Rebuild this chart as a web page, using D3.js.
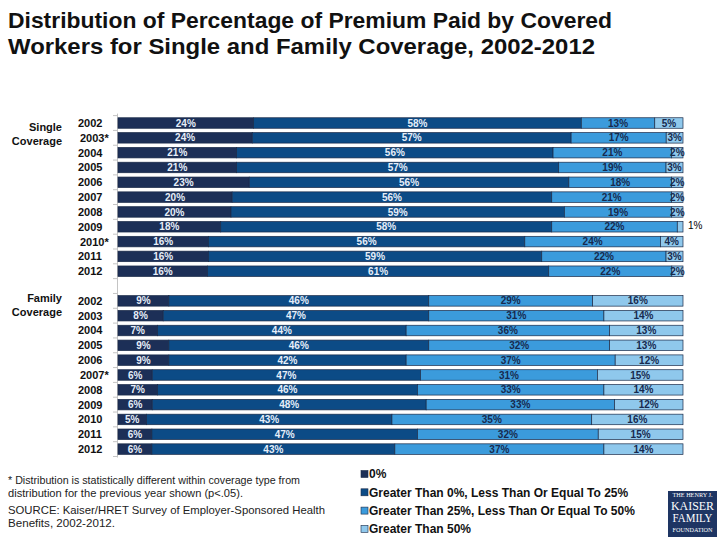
<!DOCTYPE html>
<html><head><meta charset="utf-8">
<script src="https://cdn.jsdelivr.net/npm/d3@7"></script>
<style>body{margin:0;background:#fff}svg{display:block;font-family:Arial,"Liberation Sans",sans-serif}</style>
</head><body><svg id="c" width="720" height="540"></svg>
<script>
const titleLines = ["Distribution of Percentage of Premium Paid by Covered", "Workers for Single and Family Coverage, 2002-2012"];
const categories = ["0%", "Greater Than 0%, Less Than Or Equal To 25%", "Greater Than 25%, Less Than Or Equal To 50%", "Greater Than 50%"];
const singleYears = ["2002", "2003*", "2004", "2005", "2006", "2007", "2008", "2009", "2010*", "2011", "2012"];
const familyYears = ["2002", "2003", "2004", "2005", "2006", "2007*", "2008", "2009", "2010", "2011", "2012"];
const singleZero = [24, 24, 21, 21, 23, 20, 20, 18, 16, 16, 16];
const singleLow  = [58, 57, 56, 57, 56, 56, 59, 58, 56, 59, 61];
const singleMid  = [13, 17, 21, 19, 18, 21, 19, 22, 24, 22, 22];
const singleHigh = [5, 3, 2, 3, 2, 2, 2, 1, 4, 3, 2];
const familyZero = [9, 8, 7, 9, 9, 6, 7, 6, 5, 6, 6];
const familyLow  = [46, 47, 44, 46, 42, 47, 46, 48, 43, 47, 43];
const familyMid  = [29, 31, 36, 32, 37, 31, 33, 33, 35, 32, 37];
const familyHigh = [16, 14, 13, 13, 12, 15, 14, 12, 16, 15, 14];
const groupLabels = [["Single", "Coverage"], ["Family", "Coverage"]];
const footLines = ["* Distribution is statistically different within coverage type from", "distribution for the previous year shown (p<.05).", "SOURCE:  Kaiser/HRET Survey of Employer-Sponsored Health", "Benefits, 2002-2012."];

const colors = ["#1c2f57", "#0c4b86", "#3b9bdc", "#8fc8ec"];
const labelColors = ["#e6eef9", "#e6eef9", "#172a4e", "#172a4e"];

const svg = d3.select("#c");

// title
svg.selectAll("text.title").data(titleLines).join("text")
  .attr("class", "title").attr("x", 8).attr("y", (d, i) => 28 + i * 26)
  .attr("font-size", 22).attr("font-weight", "bold").attr("fill", "#111")
  .attr("textLength", (d, i) => [604, 587][i]).attr("lengthAdjust", "spacingAndGlyphs")
  .text(d => d);

// rows
const rows = [];
singleYears.forEach((y, i) => rows.push({key: "S" + i, label: y, vals: [singleZero[i], singleLow[i], singleMid[i], singleHigh[i]]}));
const gapKey = "gap";
familyYears.forEach((y, i) => rows.push({key: "F" + i, label: y, vals: [familyZero[i], familyLow[i], familyMid[i], familyHigh[i]]}));
const slots = rows.slice(0, 11).map(r => r.key).concat([gapKey]).concat(rows.slice(11).map(r => r.key));

const yScale = d3.scaleBand().domain(slots).range([115.6, 456.5]).paddingInner(0.29).paddingOuter(0.145);
const xScale = d3.scaleLinear().domain([0, 1]).range([118, 683]);

const table = rows.map(r => ({key: r.key, label: r.label, 0: r.vals[0], 1: r.vals[1], 2: r.vals[2], 3: r.vals[3]}));
const stacked = d3.stack().keys([0, 1, 2, 3]).offset(d3.stackOffsetExpand)(table);

// axis line & ticks
const step = yScale.step();
const y0 = yScale.range()[0];
svg.append("line").attr("x1", 117.5).attr("x2", 117.5).attr("y1", y0 - 2).attr("y2", yScale.range()[1] + 1)
  .attr("stroke", "#c4c4c4").attr("stroke-width", 1);
svg.selectAll("line.tick").data(d3.range(slots.length + 1)).join("line")
  .attr("class", "tick").attr("x1", 113).attr("x2", 117.5)
  .attr("y1", i => y0 + i * step).attr("y2", i => y0 + i * step)
  .attr("stroke", "#c4c4c4").attr("stroke-width", 1);

// bars
const layers = svg.selectAll("g.layer").data(stacked).join("g").attr("class", "layer");
layers.selectAll("rect").data((s, k) => s.map(d => ({d, k}))).join("rect")
  .attr("x", o => xScale(o.d[0])).attr("width", o => xScale(o.d[1]) - xScale(o.d[0]))
  .attr("y", o => yScale(o.d.data.key)).attr("height", yScale.bandwidth())
  .attr("fill", o => colors[o.k]).attr("stroke", "#1a2a48").attr("stroke-width", 0.7);

// value labels
layers.selectAll("text").data((s, k) => s.map(d => ({d, k}))).join("text")
  .attr("x", o => o.d.data[o.k] <= 1 ? 688 : (xScale(o.d[0]) + xScale(o.d[1])) / 2)
  .attr("y", o => yScale(o.d.data.key) + yScale.bandwidth() / 2 + (o.d.data[o.k] <= 1 ? -1.5 : 0))
  .attr("dy", "0.36em")
  .attr("text-anchor", o => o.d.data[o.k] <= 1 ? "start" : "middle")
  .attr("font-size", 10).attr("font-weight", o => o.d.data[o.k] <= 1 ? "normal" : "bold")
  .attr("fill", o => o.d.data[o.k] <= 1 ? "#000" : labelColors[o.k])
  .text(o => o.d.data[o.k] + "%");

// year labels
svg.selectAll("text.year").data(rows).join("text").attr("class", "year")
  .attr("x", r => r.label.includes("*") ? 80 : 78)
  .attr("y", r => yScale(r.key) + yScale.bandwidth() / 2).attr("dy", "0.36em")
  .attr("font-size", 11).attr("font-weight", "bold").attr("fill", "#111")
  .text(r => r.label);

// group labels
const groupY = [yScale("S0") + yScale.bandwidth() / 2 + 7.5, yScale("F0") + yScale.bandwidth() / 2 + 1.5];
groupLabels.forEach((lines, g) => {
  svg.selectAll("text.g" + g).data(lines).join("text").attr("class", "g" + g)
    .attr("x", 62).attr("y", (d, i) => groupY[g] + i * 14).attr("text-anchor", "end")
    .attr("font-size", 11).attr("font-weight", "bold").attr("fill", "#111").text(d => d);
});

// footnote
svg.selectAll("text.foot").data(footLines).join("text").attr("class", "foot")
  .attr("x", 8).attr("y", (d, i) => [484, 497, 514, 527][i])
  .attr("font-size", 10.5).attr("fill", "#222")
  .attr("textLength", (d, i) => [292, 235, 317, 107][i]).attr("lengthAdjust", "spacingAndGlyphs")
  .text(d => d);

// legend
const lg = svg.selectAll("g.leg").data(categories).join("g").attr("class", "leg")
  .attr("transform", (d, i) => `translate(361,${474 + i * 18.3})`);
lg.append("rect").attr("x", 0).attr("y", -3.5).attr("width", 7).attr("height", 7)
  .attr("fill", (d, i) => colors[i]).attr("stroke", "#1a2a48").attr("stroke-width", 0.6);
lg.append("text").attr("x", 8).attr("y", 0).attr("dy", "0.36em")
  .attr("font-size", 12).attr("font-weight", "bold").attr("fill", "#111").text(d => d);

// logo
const logo = svg.append("g").attr("transform", "translate(668,491)");
logo.append("rect").attr("width", 49).attr("height", 46).attr("fill", "#1e3563");
const logoText = [["THE HENRY J.", 6, 5.2, 40], ["KAISER", 18.5, 12, 43], ["FAMILY", 31, 12, 40], ["FOUNDATION", 41, 5.2, 40]];
logo.selectAll("text").data(logoText).join("text")
  .attr("x", 24.5).attr("y", d => d[1]).attr("text-anchor", "middle")
  .attr("font-family", "'Liberation Serif','DejaVu Serif',serif").attr("font-size", d => d[2])
  .attr("fill", "#fff").attr("textLength", d => d[3]).attr("lengthAdjust", "spacingAndGlyphs")
  .text(d => d[0]);
</script></body></html>
